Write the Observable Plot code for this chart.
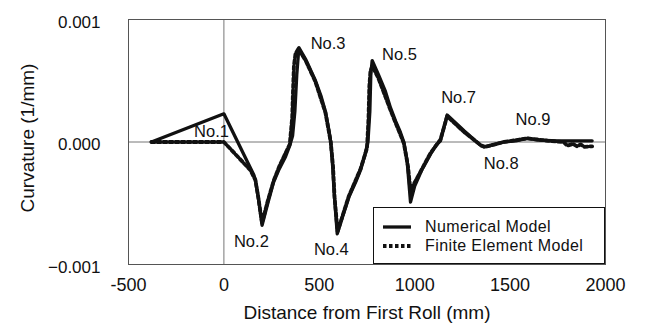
<!DOCTYPE html>
<html>
<head>
<meta charset="utf-8">
<script src="https://cdn.jsdelivr.net/npm/d3@7"></script>
<script src="https://cdn.jsdelivr.net/npm/@observablehq/plot@0.6"></script>
<style>
  html, body { margin: 0; padding: 0; background: #fff; }
  #wrap { position: relative; width: 645px; height: 331px; font-family: "Liberation Sans", Arial, sans-serif; }
  #legend { position: absolute; left: 373px; top: 207px; width: 230px; height: 55px; border: 1px solid #111; background: #fff; }
  .row { position: absolute; left: 0; height: 20px; display: flex; align-items: center; font-size: 16px; letter-spacing: 0.4px; color: #111; }
  .row svg { margin-left: 9px; margin-right: 14px; }
</style>
</head>
<body>
<div id="wrap"></div>
<script>
// Numerical model: distance (mm) and curvature (1/mm)
const numX = [-380, 0, 157, 165, 180, 200, 230, 260, 290, 323, 345, 360, 372, 382, 393,
  430, 480, 510, 532, 550, 560, 570, 578, 594,
  620, 655, 690, 716, 740, 755, 765, 770, 777,
  810, 845, 873, 900, 925, 943, 960, 978,
  1000, 1040, 1083, 1110, 1135, 1170,
  1260, 1340, 1362, 1420, 1467, 1530, 1590, 1650, 1750, 1850, 1930];
const numY = [0, 0.00023, -0.00027, -0.00031, -0.00045, -0.00068, -0.00050, -0.00033, -0.00022, -0.00012, -0.00003, 0.00005, 0.00025, 0.00055, 0.00077,
  0.00067, 0.00050, 0.00037, 0.00025, 0.00010, 0.0, -0.00020, -0.00042, -0.00075,
  -0.00062, -0.00045, -0.00033, -0.00023, -0.00010, 0.0, 0.00025, 0.00055, 0.000665,
  0.00055, 0.00042, 0.00028, 0.00017, 0.00008, 0.0, -0.00015, -0.00049,
  -0.00036, -0.00022, -0.00010, -0.00003, 0.00001, 0.00022,
  0.00009, -0.00002, -0.00004, -0.00002, 0.0, 0.00001, 0.00003, 0.000015, 0.00001, 0.00001, 0.00001];

// Finite element model
const femX = [-380, 0, 139, 165, 180, 200, 230, 260, 290, 320, 345, 358, 362, 367, 375, 390,
  430, 480, 532, 560, 572, 580, 596,
  655, 716, 750, 758, 762, 768, 778,
  810, 873, 943, 965, 978,
  1000, 1083, 1135, 1170,
  1260, 1350, 1370, 1467, 1590, 1700, 1780, 1800, 1830, 1850, 1870, 1890, 1930];
const femY = [0, 0, -0.00023, -0.00031, -0.00045, -0.00066, -0.00048, -0.00032, -0.00020, -0.00010, -0.00002, 0.00020, 0.00041, 0.00062, 0.00072, 0.00076,
  0.00066, 0.00049, 0.00024, 0.0, -0.00020, -0.00045, -0.00073,
  -0.00044, -0.00022, -0.00005, 0.00020, 0.00045, 0.00058, 0.00062,
  0.00052, 0.00026, -0.00001, -0.00020, -0.00040,
  -0.00033, -0.00009, 0.00002, 0.00021,
  0.00008, -0.00003, -0.00004, 0.0, 0.00003, 0.00001, 0.0, -0.00003, -0.000015, -0.000035, -0.00002, -0.00004, -0.000035];

// Roll labels
const rollText = ["No.1", "No.2", "No.3", "No.4", "No.5", "No.7", "No.8", "No.9"];
const rollX = [-65, 144, 546, 563, 920, 1230, 1453, 1620];
const rollY = [0.00008, -0.000818, 0.00080, -0.00088, 0.000714, 0.000358, -0.000178, 0.000181];

// Ticks
const xTicks = [-500, 0, 500, 1000, 1500, 2000];
const xTickLabels = ["-500", "0", "500", "1000", "1500", "2000"];
const yTicks = [0.001, 0, -0.001];
const yTickLabels = ["0.001", "0.000", "\u22120.001"];

const seriesNames = ["Numerical Model", "Finite Element Model"];
const xTitle = "Distance from First Roll (mm)";
const yTitle = "Curvature (1/mm)";

const num = numX.map((x, i) => ({x, y: numY[i]}));
const fem = femX.map((x, i) => ({x, y: femY[i]}));
const labels = rollText.map((t, i) => ({t, x: rollX[i], y: rollY[i]}));

const font = "Liberation Sans, Arial, sans-serif";

const chart = Plot.plot({
  width: 645,
  height: 331,
  marginLeft: 128,
  marginRight: 40,
  marginTop: 19,
  marginBottom: 67,
  style: { fontFamily: font, background: "#fff", color: "#111", overflow: "visible" },
  x: { domain: [-500, 2000] },
  y: { domain: [-0.001, 0.001] },
  marks: [
    Plot.ruleX([0], { stroke: "#777", strokeWidth: 1 }),
    Plot.ruleY([0], { stroke: "#777", strokeWidth: 1 }),
    Plot.frame({ stroke: "#555", strokeWidth: 1 }),
    Plot.line(fem, { x: "x", y: "y", stroke: "#111", strokeWidth: 3.8, strokeDasharray: "3.5,2.5" }),
    Plot.line(num, { x: "x", y: "y", stroke: "#111", strokeWidth: 3.3, strokeLinejoin: "round" }),
    Plot.text(labels, { x: "x", y: "y", text: "t", fontSize: 16.5, fill: "#111" }),
    Plot.axisX(xTicks, { tickSize: 0, tickPadding: 14, fontSize: 18, label: null, tickFormat: d => xTickLabels[xTicks.indexOf(d)] }),
    Plot.axisY(yTicks, { tickSize: 0, tickPadding: 28, fontSize: 17, tickFormat: d => yTickLabels[yTicks.indexOf(d)], dy: 3, label: null }),
    Plot.text([xTitle], { frameAnchor: "bottom", textAnchor: "middle", dy: 54, fontSize: 19, text: d => d, fill: "#111" }),
    Plot.text([yTitle], { frameAnchor: "left", textAnchor: "middle", dx: -101, dy: -4, rotate: -90, fontSize: 19, text: d => d, fill: "#111" })
  ]
});

const wrap = document.getElementById("wrap");
wrap.appendChild(chart);

const legend = document.createElement("div");
legend.id = "legend";
const rows = [
  { name: seriesNames[0], dash: null, top: 9 },
  { name: seriesNames[1], dash: "3.5,2.5", top: 28 }
];
rows.forEach(r => {
  const row = document.createElement("div");
  row.className = "row";
  row.style.top = r.top + "px";
  row.innerHTML = `<svg width="28" height="8"><line x1="0" y1="4" x2="28" y2="4" stroke="#111" stroke-width="${r.dash ? 3.8 : 3.3}" ${r.dash ? `stroke-dasharray="${r.dash}"` : ""}/></svg><span>${r.name}</span>`;
  legend.appendChild(row);
});
wrap.appendChild(legend);
</script>
</body>
</html>
